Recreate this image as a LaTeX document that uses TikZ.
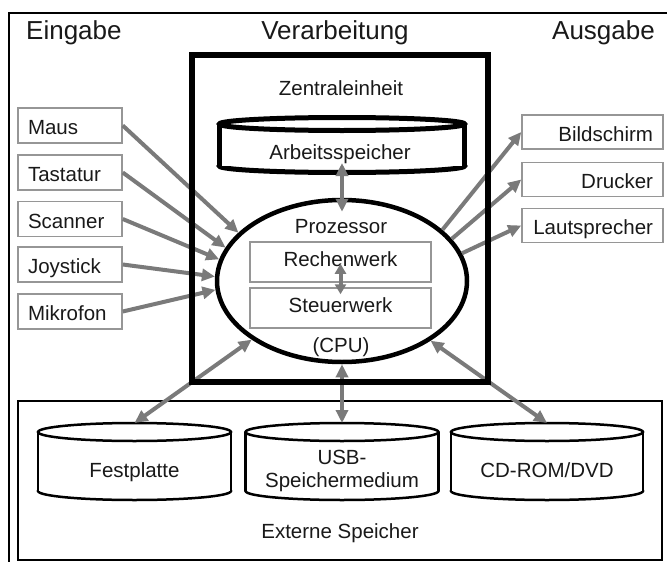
\documentclass[tikz,border=0pt]{standalone}
\usepackage{fontspec}
\setmainfont{Liberation Sans}
\usetikzlibrary{arrows.meta,shapes.geometric}
\definecolor{arrowgray}{RGB}{122,122,122}
\definecolor{boxgray}{RGB}{150,150,150}
\definecolor{inkcol}{RGB}{25,25,25}
% cylinder: left, top, right, bottom (stroke centre lines), y radius, line width
\newcommand\mycyl[6]{%
  \pgfmathsetmacro\cylcx{(#1+#3)/2}%
  \pgfmathsetmacro\cylrx{(#3-#1)/2}%
  \pgfmathsetmacro\cyltop{#2+#5}%
  \pgfmathsetmacro\cylbot{#4-#5}%
  \draw[line width=#6, fill=white] (\cylcx,\cylbot) ellipse [x radius=\cylrx, y radius=#5];
  \fill[white] (#1,\cyltop) rectangle (#3,\cylbot);
  \draw[line width=#6] (#1,\cyltop) -- (#1,\cylbot) (#3,\cyltop) -- (#3,\cylbot);
  \draw[line width=#6, fill=white] (\cylcx,\cyltop) ellipse [x radius=\cylrx, y radius=#5];
}
\begin{document}
\begin{tikzpicture}[x=1pt,y=-1pt,
  txt/.style={font=\fontsize{20.5}{23}\selectfont, inner sep=0pt, text=inkcol},
  head/.style={font=\fontsize{26}{30}\selectfont, inner sep=0pt, text=inkcol},
  cylbox/.style={rectangle, draw=none, inner sep=0pt, outer sep=0pt},
  unitbox/.style={txt, draw=boxgray, line width=1.5pt, minimum width=181pt, minimum height=40pt, text height=14.7pt, text depth=6pt},
  inbox/.style={txt, draw=boxgray, line width=1.5pt, minimum height=35pt, inner xsep=10pt, inner ysep=0pt, text width=84pt, align=left, text height=18.7pt, text depth=0pt},
  outbox/.style={txt, draw=boxgray, line width=1.5pt, minimum height=34pt, inner xsep=10pt, inner ysep=0pt, text width=121pt, align=right, text height=18.7pt, text depth=0pt},
  conn/.style={draw=arrowgray, line width=4pt, -{Triangle[length=13pt,width=12pt]}},
  both/.style={draw=arrowgray, line width=4pt, {Triangle[length=13pt,width=12pt]}-{Triangle[length=13pt,width=12pt]}},
  smallboth/.style={draw=arrowgray, line width=4pt, {Triangle[length=10pt,width=11pt]}-{Triangle[length=10pt,width=11pt]}}
]
\useasboundingbox (0,0) rectangle (667,562);
\clip (0,0) rectangle (667,562);

% outer frame (only left and top sides visible)
\draw[line width=2.5pt] (9,580) -- (9,13) -- (690,13);

% headers
\node[head, anchor=base west] (hin) at (26,39) {Eingabe};
\node[head, anchor=base] (hproc) at (335,39) {Verarbeitung};
\node[head, anchor=base east] (hout) at (655,39) {Ausgabe};

\node[txt, anchor=base] (zlabel) at (341,95.5) {Zentraleinheit};

% Arbeitsspeicher
\mycyl{219.5}{117.5}{464.5}{172.5}{6.5}{5pt}
\node[cylbox, minimum width=245pt, minimum height=55pt] (arb) at (342,145) {};
\node[txt, anchor=base] (arbt) at (340,159) {Arbeitsspeicher};

% CPU
\node[ellipse, draw=black, line width=4.5pt, minimum width=250pt, minimum height=162pt, inner sep=0pt] (cpu) at (342,281) {};
\node[txt, anchor=base] (proz) at (341,233) {Prozessor};
\node[txt, anchor=base] (cpul) at (341,352) {(CPU)};
\node[unitbox] (rw) at (340.5,262) {Rechenwerk};
\node[unitbox] (sw) at (340.5,308) {Steuerwerk};

% input devices
\node[inbox] (maus) at (70,125.5) {Maus};
\node[inbox] (tast) at (70,172.5) {Tastatur};
\node[inbox] (scan) at (70,219) {Scanner};
\node[inbox] (joy) at (70,264.5) {Joystick};
\node[inbox] (mikro) at (70,311.5) {Mikrofon};

% output devices
\node[outbox] (bild) at (592.5,132) {Bildschirm};
\node[outbox] (druck) at (592.5,179.5) {Drucker};
\node[outbox] (laut) at (592.5,225.5) {Lautsprecher};

% external storage
\node[draw=black, line width=2.5pt, minimum width=644pt, minimum height=159pt, inner sep=0pt] (ext) at (340,480.5) {};
\node[txt, anchor=base] (extt) at (340,538) {Externe Speicher};
\mycyl{38}{423}{231}{500}{9}{2.5pt}
\mycyl{245.5}{423}{438.5}{500}{9}{2.5pt}
\mycyl{451}{423}{643}{500}{9}{2.5pt}
\node[cylbox, minimum width=193pt, minimum height=77pt] (fest) at (134.5,461.5) {};
\node[cylbox, minimum width=193pt, minimum height=77pt] (usb) at (342,461.5) {};
\node[cylbox, minimum width=192pt, minimum height=77pt] (cd) at (547,461.5) {};
\node[txt, text height=14.7pt, text depth=0pt] (festt) at (134.5,470.5) {Festplatte};
\node[txt, align=center] (usbt) at (342,470.5) {USB-\\Speichermedium};
\node[txt, text height=14.7pt, text depth=0pt] (cdt) at (547,470.5) {CD-ROM/DVD};

% connectors
\draw[conn] (maus.east) -- (cpu.155);
\draw[conn] (tast.east) -- (cpu.164);
\draw[conn] (scan.east) -- (cpu.170);
\draw[conn] (joy.east) -- (cpu.178);
\draw[conn] (mikro.east) -- (cpu.184);
\draw[conn] (cpu.27) -- (bild.west);
\draw[conn] (cpu.21) -- (druck.west);
\draw[conn] (cpu.13) -- (laut.west);
\draw[both, shorten <=-9.5pt, shorten >=-14pt] (arb.south) -- (cpu.north);
\draw[smallboth, shorten <=-19pt, shorten >=-7pt] (rw.south) -- (sw.north);
\draw[both] (cpu.213) -- (fest.north);
\draw[both] (cpu.south) -- (usb.north);
\draw[both] (cpu.326) -- (cd.north);

% central unit frame on top
\node[draw=black, line width=5.5pt, minimum width=296pt, minimum height=327pt, inner sep=0pt] (zbox) at (340,218.5) {};
\end{tikzpicture}
\end{document}
